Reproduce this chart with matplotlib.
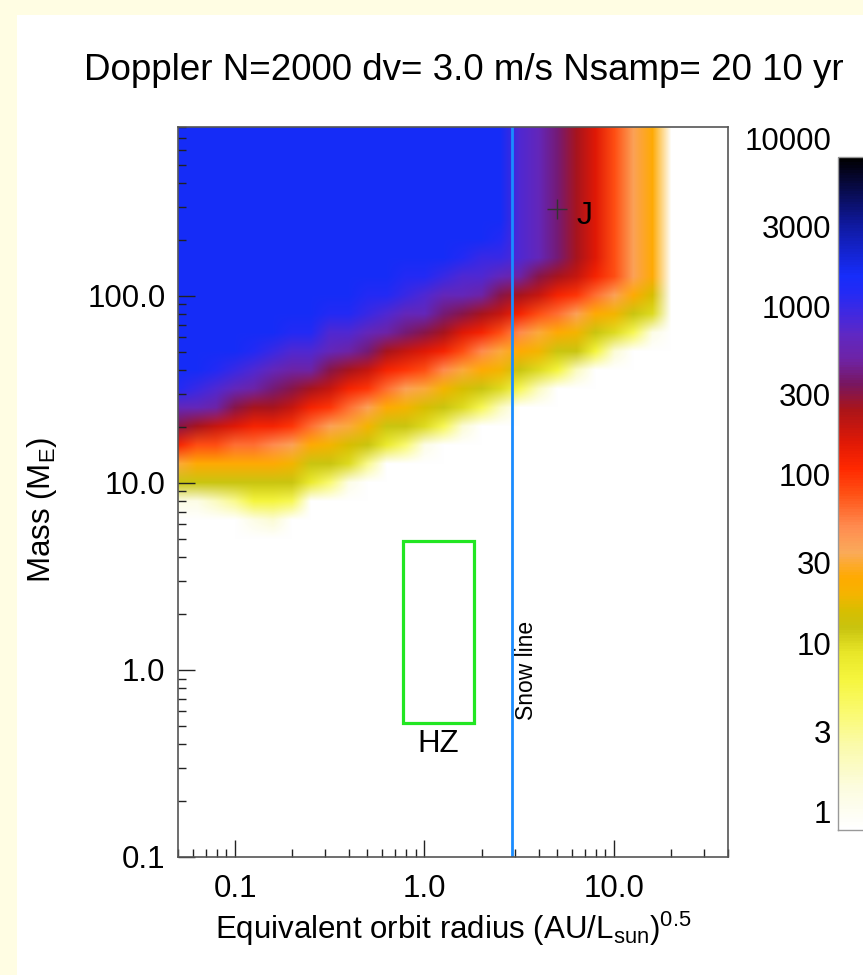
import numpy as np
import matplotlib
matplotlib.use("Agg")
import matplotlib.pyplot as plt
from matplotlib.colors import LinearSegmentedColormap, LogNorm, Normalize
from matplotlib.cm import ScalarMappable
from matplotlib.patches import Rectangle
from matplotlib.ticker import FixedLocator, FixedFormatter, LogLocator, NullLocator

plt.rcParams['font.family'] = ['Liberation Sans', 'DejaVu Sans']
plt.rcParams['mathtext.fontset'] = 'custom'
plt.rcParams['mathtext.rm'] = 'Liberation Sans'
plt.rcParams['mathtext.it'] = 'Liberation Sans:italic'
plt.rcParams['mathtext.default'] = 'regular'

# cell centres of the detection map, in log10 units
log_radius = np.round(np.arange(-1.3, 1.35, 0.1), 2)   # 27 columns, 0.05 .. 20 AU
log_mass = np.round(np.arange(2.9, 0.65, -0.1), 2)     # 23 rows, top (794 M_E) to bottom (5 M_E)

# detections per cell: 10 * log10(count), one row per mass bin
detect_rows = [
    "33 33 33 33 33 33 33 33 33 33 33 33 33 33 33 33 33 33 30 29 27 25 23 20 17 15 0",  # 2.9
    "33 33 33 33 33 33 33 33 33 33 33 33 33 33 33 33 33 33 30 29 27 25 23 20 17 15 0",  # 2.8
    "33 33 33 33 33 33 33 33 33 33 33 33 33 33 33 33 33 33 30 29 27 25 23 20 17 15 0",  # 2.7
    "33 33 33 33 33 33 33 33 33 33 33 33 33 33 33 33 33 33 30 29 27 25 23 20 17 15 0",  # 2.6
    "33 33 33 33 33 33 33 33 33 33 33 33 33 33 33 33 33 33 30 29 27 25 23 20 17 15 0",  # 2.5
    "33 33 33 33 33 33 33 33 33 33 33 33 33 33 33 33 33 33 30 29 27 25 23 20 17 15 0",  # 2.4
    "33 33 33 33 33 33 33 33 33 33 33 33 33 33 33 33 33 32 30 29 27 25 23 20 17 15 0",  # 2.3
    "33 33 33 33 33 33 33 33 33 33 33 33 33 33 33 32 31 31 30 29 27 25 23 20 17 15 0",  # 2.2
    "33 33 33 33 33 33 33 33 33 33 33 33 32 32 31 30 30 29 28 26 25 24 22 20 17 15 0",  # 2.1
    "33 33 33 33 33 33 33 33 33 33 32 32 31 30 29 29 28 26 25 24 22 21 19 17 15 13 0",  # 2.0
    "33 33 33 33 33 33 33 33 32 32 31 30 29 29 27 26 25 24 22 20 19 17 15 14 12 11 0",  # 1.9
    "33 33 33 33 33 33 32 32 30 30 29 28 27 26 25 23 22 20 18 16 15 14 12 11 8 2 0",    # 1.8
    "33 33 33 33 32 31 30 30 29 28 27 25 24 23 22 20 18 16 15 14 12 12 9 3 0 0 0",      # 1.7
    "33 33 32 31 30 29 28 28 26 25 24 22 21 20 18 16 15 14 12 11 9 4 0 0 0 0 0",        # 1.6
    "32 31 30 29 28 27 26 25 24 22 21 19 17 16 14 13 12 11 8 4 0 0 0 0 0 0 0",          # 1.5
    "29 29 28 26 25 25 24 22 21 19 17 15 14 13 12 11 8 4 0 0 0 0 0 0 0 0 0",            # 1.4
    "26 25 24 23 22 22 21 19 17 16 14 12 12 11 8 3 0 0 0 0 0 0 0 0 0 0 0",              # 1.3
    "22 20 20 19 19 18 17 15 14 13 12 10 7 2 0 0 0 0 0 0 0 0 0 0 0 0 0",                # 1.2
    "16 15 15 15 15 15 14 12 12 11 6 0 0 0 0 0 0 0 0 0 0 0 0 0 0 0 0",                  # 1.1
    "12 12 12 12 12 12 12 10 7 2 0 0 0 0 0 0 0 0 0 0 0 0 0 0 0 0 0",                    # 1.0
    "2 2 4 6 9 9 8 0 0 0 0 0 0 0 0 0 0 0 0 0 0 0 0 0 0 0 0",                            # 0.9
    "0 0 0 0 2 3 0 0 0 0 0 0 0 0 0 0 0 0 0 0 0 0 0 0 0 0 0",                            # 0.8
    "0 0 0 0 0 0 0 0 0 0 0 0 0 0 0 0 0 0 0 0 0 0 0 0 0 0 0",                            # 0.7
]
counts_log = np.array([[int(v) for v in r.split()] for r in detect_rows]) / 10.0

snow_line_au = 2.9
hz_radius = [0.77, 1.83]
hz_mass = [0.52, 4.9]
jupiter_au, jupiter_mass = 5.0, 290.0

x_ticks = [0.1, 1.0, 10.0]
x_ticklabels = ["0.1", "1.0", "10.0"]
y_ticks = [0.1, 1.0, 10.0, 100.0]
y_ticklabels = ["0.1", "1.0", "10.0", "100.0"]
cb_ticks = [1, 3, 10, 30, 100, 300, 1000, 3000, 10000]
cb_ticklabels = ["1", "3", "10", "30", "100", "300", "1000", "3000", "10000"]

# colour table, position = log10(count) / 4
cmap_pts = [
    (0.00, (255, 255, 255)), (0.25, (252, 252, 222)), (0.50, (250, 250, 170)),
    (0.70, (250, 250, 110)), (0.90, (245, 245, 60)), (1.05, (232, 230, 40)),
    (1.20, (200, 195, 15)), (1.30, (215, 190, 0)), (1.40, (245, 180, 0)),
    (1.50, (255, 170, 0)), (1.65, (250, 170, 90)), (1.80, (255, 140, 80)),
    (2.00, (255, 80, 20)), (2.15, (255, 40, 0)), (2.30, (225, 25, 5)),
    (2.50, (170, 20, 25)), (2.65, (120, 22, 95)), (2.80, (110, 35, 165)),
    (2.95, (95, 40, 195)), (3.05, (70, 40, 220)), (3.20, (35, 42, 245)),
    (3.30, (22, 45, 250)), (3.45, (20, 35, 205)), (3.60, (15, 25, 160)),
    (3.75, (10, 15, 100)), (3.90, (5, 5, 40)), (4.00, (0, 0, 0)),
]
cmap = LinearSegmentedColormap.from_list(
    "idl_like", [(p / 4.0, tuple(c / 255 for c in rgb)) for p, rgb in cmap_pts])

fig = plt.figure(figsize=(8.63, 9.75), dpi=100)
fig.patch.set_facecolor("#fffde3")
fig.add_artist(Rectangle((17 / 863, 0), 1, 1 - 15 / 975, transform=fig.transFigure,
                         facecolor="white", edgecolor="none", zorder=-10))

rect = [178 / 863, 1 - 857 / 975, 550 / 863, 730 / 975]

# map drawn in log units on a plain axes underneath the log axes
ax_img = fig.add_axes(rect)
ax_img.imshow(counts_log, cmap=cmap, norm=Normalize(0, 4), origin="upper",
              extent=(log_radius[0] - 0.05, log_radius[-1] + 0.05,
                      log_mass[-1] - 0.05, log_mass[0] + 0.05),
              interpolation="bilinear", interpolation_stage="rgba", aspect="auto")
ax_img.set_xlim(np.log10(0.05), np.log10(40))
ax_img.set_ylim(np.log10(0.1), np.log10(800))
ax_img.axis("off")

ax = fig.add_axes(rect)
ax.set_facecolor("none")
ax.set_xscale("log")
ax.set_yscale("log")
ax.set_xlim(0.05, 40)
ax.set_ylim(0.1, 800)
ax.xaxis.set_major_locator(FixedLocator(x_ticks))
ax.xaxis.set_major_formatter(FixedFormatter(x_ticklabels))
ax.yaxis.set_major_locator(FixedLocator(y_ticks))
ax.yaxis.set_major_formatter(FixedFormatter(y_ticklabels))
ax.xaxis.set_minor_locator(LogLocator(subs=np.arange(2, 10), numticks=20))
ax.yaxis.set_minor_locator(LogLocator(subs=np.arange(2, 10), numticks=20))
ax.xaxis.set_minor_formatter(FixedFormatter([]))
ax.yaxis.set_minor_formatter(FixedFormatter([]))
ax.tick_params(which="both", direction="in", top=False, right=False, color="#222222")
ax.tick_params(which="major", length=12, width=1, labelsize=22.5)
ax.tick_params(which="minor", length=6, width=1)
ax.tick_params(axis="x", which="major", pad=12)
ax.tick_params(axis="y", which="major", pad=9)
for s in ax.spines.values():
    s.set_color("#555555")
    s.set_linewidth(1.2)

ax.axvline(snow_line_au, color="#1a8cff", lw=2)
ax.annotate("Snow line", xy=(snow_line_au, 1.0), xytext=(2, 0), textcoords="offset points",
            rotation=90, ha="left", va="center", fontsize=16.5)

ax.add_patch(Rectangle((hz_radius[0], hz_mass[0]), hz_radius[1] - hz_radius[0],
                       hz_mass[1] - hz_mass[0], facecolor="none", edgecolor="#22e622", lw=2.3))
ax.annotate("HZ", xy=(np.sqrt(hz_radius[0] * hz_radius[1]), hz_mass[0]), xytext=(0, -4),
            textcoords="offset points", ha="center", va="top", fontsize=22.5)

ax.plot(jupiter_au, jupiter_mass, marker="+", color="#333333", ms=14, mew=1)
ax.annotate("J", xy=(jupiter_au, jupiter_mass), xytext=(14, -5), textcoords="offset points",
            ha="left", va="center", fontsize=23)

ax.set_xlabel(r"Equivalent orbit radius (AU/L$_{sun}$)$^{0.5}$", fontsize=22.5, labelpad=4)
fig.text(42 / 863, 1 - 510 / 975, r"Mass (M$_{E}$)", rotation=90, ha="center", va="center",
         fontsize=22.5)
fig.text(464 / 863, 1 - 70 / 975, "Doppler N=2000 dv= 3.0 m/s Nsamp= 20 10 yr",
         ha="center", va="center", fontsize=26.5)

# colour bar, cut by the right edge of the picture
cax = fig.add_axes([838 / 863, 1 - 830 / 975, 60 / 863, 673 / 975])
cb = fig.colorbar(ScalarMappable(norm=LogNorm(1, 1e4), cmap=cmap), cax=cax)
cb.outline.set_edgecolor("#999999")
cb.outline.set_linewidth(1)
cax.yaxis.set_ticks_position("left")
cax.yaxis.set_major_locator(FixedLocator(cb_ticks))
cax.yaxis.set_major_formatter(FixedFormatter(cb_ticklabels))
cax.yaxis.set_minor_locator(NullLocator())
cax.tick_params(length=0, pad=5, labelsize=22.5)
plt.setp(cax.get_yticklabels(), va="bottom")

fig.savefig("out.png", dpi=100)
